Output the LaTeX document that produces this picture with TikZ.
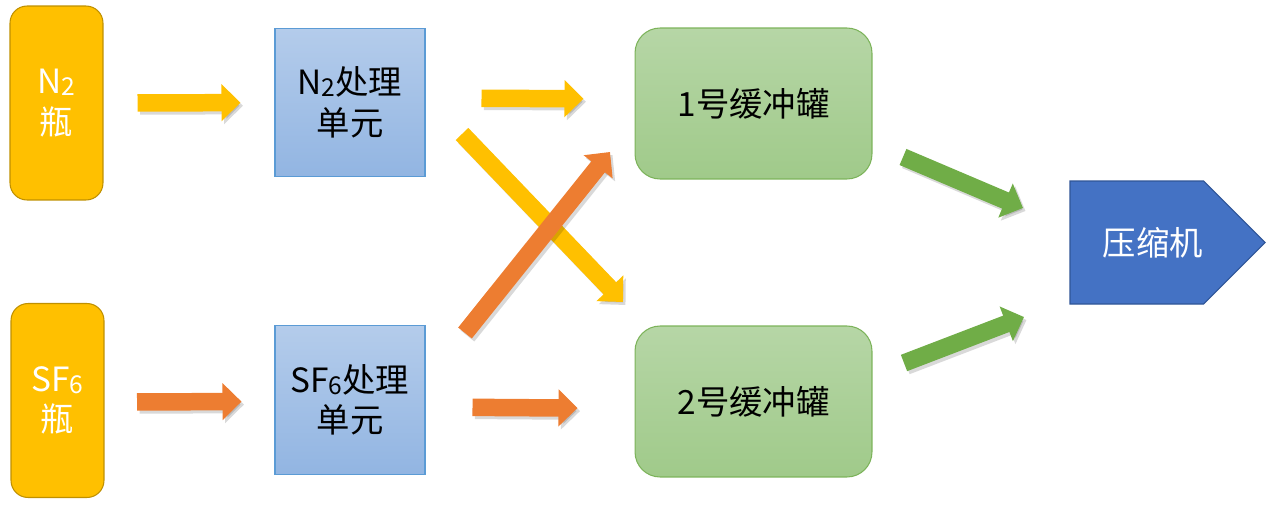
\documentclass[tikz,border=0pt]{standalone}
\usepackage{fontspec}
\setmainfont{Noto Sans CJK SC}
\usetikzlibrary{arrows.meta,positioning}
\definecolor{bottlefill}{HTML}{FFC000}
\definecolor{bottleline}{HTML}{BF9000}
\definecolor{unittop}{HTML}{B4CCEB}
\definecolor{unitbot}{HTML}{92B5E2}
\definecolor{unitline}{HTML}{5B9BD5}
\definecolor{tanktop}{HTML}{B6D6A6}
\definecolor{tankbot}{HTML}{A0CA8A}
\definecolor{tankline}{HTML}{7CB35A}
\definecolor{compfill}{HTML}{4472C4}
\definecolor{compline}{HTML}{2F5597}
\definecolor{flowyellow}{HTML}{FFC000}
\definecolor{floworange}{HTML}{ED7D31}
\definecolor{flowgreen}{HTML}{70AD47}
\newcommand{\lowdigit}[1]{\raisebox{-1pt}{\fontsize{14}{14}\selectfont #1}}
\tikzset{
  every node/.style={
    font=\fontsize{19}{23}\selectfont,
    align=center,
    line width=0.6pt
  },
  bottle/.style={
    rounded corners=0.34cm,
    draw=bottleline,
    fill=bottlefill,
    text=white,
    minimum width=1.86cm,
    minimum height=3.88cm
  },
  unit/.style={
    draw=unitline,
    top color=unittop,
    bottom color=unitbot,
    minimum width=3cm,
    minimum height=2.97cm
  },
  tank/.style={
    rounded corners=0.5cm,
    draw=tankline,
    top color=tanktop,
    bottom color=tankbot,
    minimum width=4.74cm,
    minimum height=3.02cm
  },
  comp/.style={
    draw=compline,
    fill=compfill,
    line width=0.6pt
  },
  flow/.style={
    line width=0.35cm,
    -{Triangle[length=0.38cm,width=0.72cm]}
  },
  flowshadow/.style={
    flow,
    draw=black,
    opacity=0.15,
    transform canvas={shift={(0.05cm,-0.06cm)}}
  }
}
\begin{document}
\begin{tikzpicture}[x=0.02cm,y=-0.02cm]
    \useasboundingbox (0,0) rectangle (1271,507);
    % sources
    \node[bottle] (n2b) at (56.5,103) {N\lowdigit{2}\\瓶};
    \node[bottle] (sf6b) at (57.5,400.5) {SF\lowdigit{6}\\瓶};
    % treatment units
    \node[unit] (n2u) at (350,102.5) {N\lowdigit{2}处理\\单元};
    \node[unit] (sf6u) at (350,400) {SF\lowdigit{6}处理\\单元};
    % buffer tanks
    \node[tank] (tank1) at (753.5,103.5) {1号缓冲罐};
    \node[tank] (tank2) at (753.5,401.5) {2号缓冲罐};
    % compressor
    \draw[comp] (1070,181) -- (1203.5,181) -- (1265,242.5) -- (1203.5,304) -- (1070,304) -- cycle;
    \node[text=white] (comp) at (1153,242.5) {压缩机};
    % free arrow ends
    \coordinate (ydA) at (462,134);
    \coordinate (ydB) at (623,302);
    \coordinate (odA) at (465,333);
    \coordinate (odB) at (610,152);
    \coordinate (g1A) at (903,157);
    \coordinate (g1B) at (1023,208);
    \coordinate (g2A) at (904,363);
    \coordinate (g2B) at (1024,317);
    % straight flows
    \draw[flowshadow,shorten <=0.68cm,shorten >=0.68cm] (n2b) -- (n2u);
    \draw[flow,draw=flowyellow,shorten <=0.68cm,shorten >=0.68cm] (n2b) -- (n2u);
    \draw[flowshadow,shorten <=0.65cm,shorten >=0.66cm] ([yshift=-0.03cm]sf6b.east) -- ([yshift=-0.03cm]sf6u.west);
    \draw[flow,draw=floworange,shorten <=0.65cm,shorten >=0.66cm] ([yshift=-0.03cm]sf6b.east) -- ([yshift=-0.03cm]sf6u.west);
    \draw[flowshadow,shorten <=1.12cm,shorten >=1.02cm] ([yshift=0.09cm]n2u.east) -- ([yshift=0.09cm]tank1.west);
    \draw[flow,draw=flowyellow,shorten <=1.12cm,shorten >=1.02cm] ([yshift=0.09cm]n2u.east) -- ([yshift=0.09cm]tank1.west);
    \draw[flowshadow,shorten <=0.94cm,shorten >=1.14cm] ([yshift=-0.14cm]sf6u.east) -- ([yshift=-0.14cm]tank2.west);
    \draw[flow,draw=floworange,shorten <=0.94cm,shorten >=1.14cm] ([yshift=-0.14cm]sf6u.east) -- ([yshift=-0.14cm]tank2.west);
    % crossing and output flows
    \foreach \a/\b/\c in {ydA/ydB/flowyellow, odA/odB/floworange, g1A/g1B/flowgreen, g2A/g2B/flowgreen}{
        \draw[flowshadow] (\a) -- (\b);
        \draw[flow,draw=\c] (\a) -- (\b);
    }
\end{tikzpicture}
\end{document}
